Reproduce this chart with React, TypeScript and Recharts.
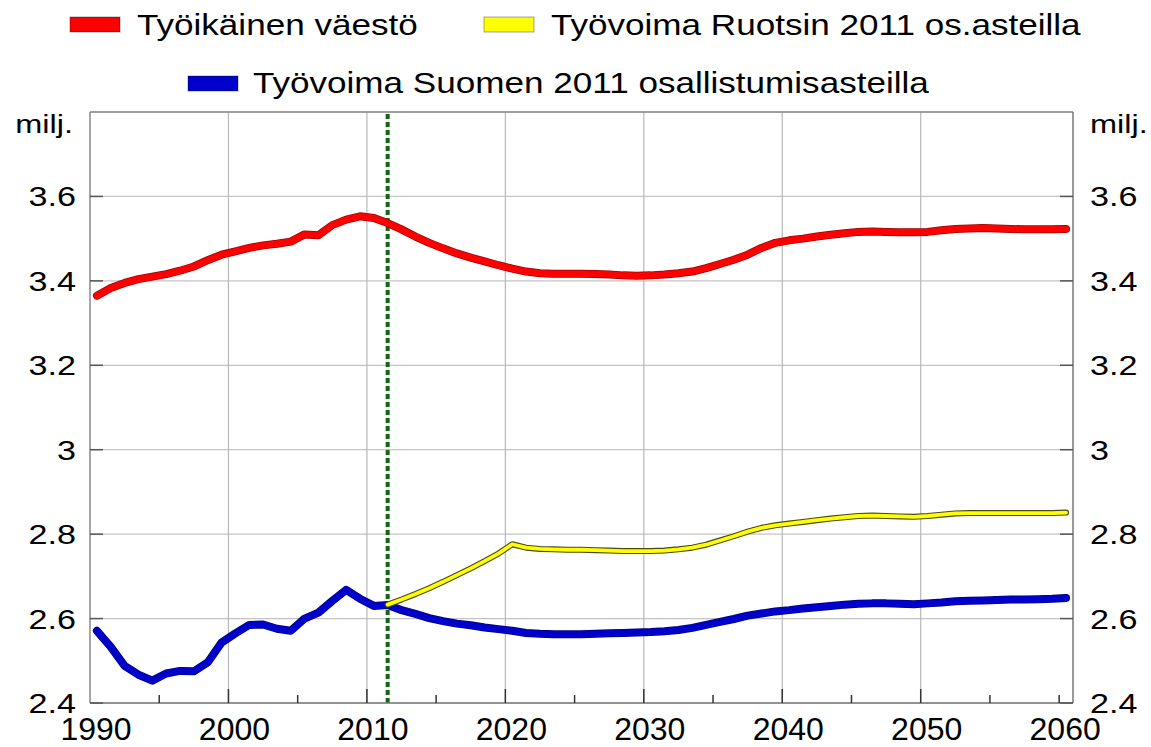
import React from 'react';
import { LineChart, Line, XAxis, YAxis, CartesianGrid, ReferenceLine } from 'recharts';

const FONT = '"Liberation Sans", Arial, Helvetica, sans-serif';

const years: number[] = Array.from({ length: 71 }, (_, i) => 1990 + i);

const workingAgePop: number[] = [
  3.365, 3.383, 3.395, 3.404, 3.410, 3.416, 3.424, 3.434, 3.449, 3.462,
  3.470, 3.478, 3.484, 3.488, 3.493, 3.510, 3.508, 3.532, 3.545, 3.553,
  3.549, 3.537, 3.522, 3.505, 3.490, 3.477, 3.465, 3.455, 3.446, 3.437,
  3.429, 3.422, 3.418, 3.417, 3.417, 3.417, 3.416, 3.415, 3.413, 3.412,
  3.413, 3.415, 3.418, 3.422, 3.430, 3.440, 3.450, 3.462, 3.478, 3.490,
  3.496, 3.500, 3.505, 3.509, 3.513, 3.516, 3.517, 3.516, 3.515, 3.515,
  3.516, 3.520, 3.523, 3.524, 3.525, 3.524, 3.523, 3.522, 3.522, 3.522,
  3.523,
];

const laborFinland: number[] = [
  2.571, 2.533, 2.488, 2.467, 2.453, 2.470, 2.476, 2.475, 2.496, 2.543,
  2.565, 2.585, 2.586, 2.576, 2.571, 2.600, 2.614, 2.642, 2.668, 2.647,
  2.630, 2.632, 2.620, 2.611, 2.601, 2.594, 2.588, 2.584, 2.579, 2.575,
  2.571, 2.566, 2.564, 2.563, 2.563, 2.563, 2.564, 2.565, 2.566, 2.567,
  2.568, 2.570, 2.573, 2.578, 2.585, 2.592, 2.599, 2.607, 2.612, 2.617,
  2.620, 2.624, 2.627, 2.630, 2.633, 2.635, 2.636, 2.636, 2.635, 2.634,
  2.636, 2.638, 2.641, 2.642, 2.643, 2.644, 2.645, 2.645, 2.646, 2.647,
  2.649,
];

// 1990-2010 have no value for the Swedish-rate scenario
const laborSweden: (number | null)[] = [
  null, null, null, null, null, null, null, null, null, null,
  null, null, null, null, null, null, null, null, null, null,
  null, 2.633, 2.645, 2.658, 2.672, 2.687, 2.703, 2.719, 2.736, 2.754,
  2.776, 2.768, 2.765, 2.764, 2.763, 2.763, 2.762, 2.761, 2.760, 2.760,
  2.760, 2.761, 2.764, 2.768, 2.775, 2.785, 2.795, 2.806, 2.815, 2.821,
  2.825, 2.829, 2.833, 2.837, 2.840, 2.843, 2.844, 2.843, 2.842, 2.841,
  2.843, 2.846, 2.849, 2.850, 2.850, 2.850, 2.850, 2.850, 2.850, 2.850,
  2.851,
];

const xTicks: number[] = [1990, 1995, 2000, 2005, 2010, 2015, 2020, 2025, 2030, 2035, 2040, 2045, 2050, 2055, 2060];
const xGridYears: number[] = [2000, 2010, 2020, 2030, 2040, 2050];
const yTicks: number[] = [2.4, 2.6, 2.8, 3.0, 3.2, 3.4, 3.6];
const yDomain: [number, number] = [2.4, 3.8];
const forecastStart = 2011.5;
const unitLabel = 'milj.';

const legendNames: string[] = [
  'Työikäinen väestö',
  'Työvoima Ruotsin 2011 os.asteilla',
  'Työvoima Suomen 2011 osallistumisasteilla',
];
const legendColors: string[] = ['#ff0000', '#ffff00', '#0000cc'];

const data = years.map((yr, i) => ({
  x: yr + 0.5,
  pop: workingAgePop[i],
  fin: laborFinland[i],
  swe: laborSweden[i],
}));

const fmt = (v: number) => String(parseFloat(v.toFixed(1)));

const XTick = (props: any) => {
  const { x, y, payload } = props;
  const v: number = payload.value;
  const major = v % 10 === 0 && v !== 2060;
  const len = major ? 14 : 8;
  return (
    <g>
      {v !== 1990 && (
        <line x1={x} y1={y} x2={x} y2={y - len} stroke="#333" strokeWidth={1.5} />
      )}
      {v % 10 === 0 && (
        <text x={x + 6} y={y + 37} textAnchor="middle" fontSize={32} fill="#000" fontFamily={FONT}>
          {v}
        </text>
      )}
    </g>
  );
};

const LeftTick = (props: any) => {
  const { x, y, payload } = props;
  return (
    <g>
      <line x1={x} y1={y} x2={x + 13} y2={y} stroke="#555" strokeWidth={1.5} />
      <text
        transform={`translate(${x - 14},${y + 10}) scale(1.22,1)`}
        textAnchor="end"
        fontSize={28}
        fill="#000"
        fontFamily={FONT}
      >
        {fmt(payload.value)}
      </text>
    </g>
  );
};

const RightTick = (props: any) => {
  const { x, y, payload } = props;
  return (
    <g>
      <line x1={x} y1={y} x2={x - 13} y2={y} stroke="#555" strokeWidth={1.5} />
      <text
        transform={`translate(${x + 17},${y + 10}) scale(1.22,1)`}
        textAnchor="start"
        fontSize={28}
        fill="#000"
        fontFamily={FONT}
      >
        {fmt(payload.value)}
      </text>
    </g>
  );
};

const legendLayout = [
  { sx: 70, sy: 17, tx: 137, ty: 35 },
  { sx: 484, sy: 17, tx: 551, ty: 35 },
  { sx: 188, sy: 76, tx: 253, ty: 93 },
];

export default function App() {
  return (
    <div style={{ position: 'relative', width: 1151, height: 747, background: '#fff' }}>
      <style>{`body{margin:0;background:#fff}`}</style>
      <LineChart
        width={1151}
        height={747}
        data={data}
        margin={{ top: 112, right: 0, bottom: 0, left: 0 }}
      >
        <CartesianGrid yAxisId="left" vertical={false} stroke="#c4c4c4" strokeWidth={1.2} />
        {xGridYears.map((g) => (
          <ReferenceLine key={g} x={g} yAxisId="left" stroke="#b8b8b8" strokeWidth={1.2} />
        ))}
        <ReferenceLine y={3.8} yAxisId="left" stroke="#888" strokeWidth={1.5} />
        <XAxis
          type="number"
          dataKey="x"
          domain={[1990, 2061]}
          ticks={xTicks}
          interval={0}
          allowDataOverflow
          height={44}
          tickSize={0}
          tickMargin={0}
          tickLine={false}
          axisLine={{ stroke: '#777', strokeWidth: 1.5 }}
          tick={<XTick />}
        />
        <YAxis
          yAxisId="left"
          orientation="left"
          width={90}
          domain={yDomain}
          ticks={yTicks}
          interval={0}
          allowDataOverflow
          tickSize={0}
          tickMargin={0}
          tickLine={false}
          axisLine={{ stroke: '#888', strokeWidth: 1.5 }}
          tick={<LeftTick />}
        />
        <YAxis
          yAxisId="right"
          orientation="right"
          width={78}
          domain={yDomain}
          ticks={yTicks}
          interval={0}
          allowDataOverflow
          tickSize={0}
          tickMargin={0}
          tickLine={false}
          axisLine={{ stroke: '#777', strokeWidth: 1.5 }}
          tick={<RightTick />}
        />
        <ReferenceLine
          x={forecastStart}
          yAxisId="left"
          stroke="#146614"
          strokeWidth={4}
          strokeDasharray="5 3"
        />
        <Line yAxisId="left" type="linear" dataKey="pop" stroke="#a00000" strokeWidth={8} dot={false} isAnimationActive={false} strokeLinejoin="round" strokeLinecap="round" legendType="none" />
        <Line yAxisId="left" type="linear" dataKey="pop" stroke="#ff0000" strokeWidth={6.5} dot={false} isAnimationActive={false} strokeLinejoin="round" strokeLinecap="round" name={legendNames[0]} />
        <Line yAxisId="left" type="linear" dataKey="fin" stroke="#000080" strokeWidth={8} dot={false} isAnimationActive={false} strokeLinejoin="round" strokeLinecap="round" legendType="none" />
        <Line yAxisId="left" type="linear" dataKey="fin" stroke="#0000cc" strokeWidth={6.5} dot={false} isAnimationActive={false} strokeLinejoin="round" strokeLinecap="round" name={legendNames[2]} />
        <Line yAxisId="left" type="linear" dataKey="swe" stroke="#4a4a10" strokeWidth={6} dot={false} isAnimationActive={false} strokeLinejoin="round" strokeLinecap="round" legendType="none" />
        <Line yAxisId="left" type="linear" dataKey="swe" stroke="#ffff00" strokeWidth={3.8} dot={false} isAnimationActive={false} strokeLinejoin="round" strokeLinecap="round" name={legendNames[1]} />
      </LineChart>
      <svg
        width={1151}
        height={747}
        style={{ position: 'absolute', left: 0, top: 0, pointerEvents: 'none' }}
      >
        {legendNames.map((name, i) => {
          const l = legendLayout[i];
          return (
            <g key={name}>
              <rect x={l.sx} y={l.sy} width={50} height={15} fill={legendColors[i]} stroke="rgba(0,0,0,0.35)" strokeWidth={1} />
              <text
                transform={`translate(${l.tx},${l.ty}) scale(1.17,1)`}
                fontSize={30}
                fill="#000"
                fontFamily={FONT}
              >
                {name}
              </text>
            </g>
          );
        })}
        <text transform="translate(73,133) scale(1.25,1)" textAnchor="end" fontSize={26} fill="#000" fontFamily={FONT}>
          {unitLabel}
        </text>
        <text transform="translate(1090,133) scale(1.25,1)" textAnchor="start" fontSize={26} fill="#000" fontFamily={FONT}>
          {unitLabel}
        </text>
      </svg>
    </div>
  );
}
